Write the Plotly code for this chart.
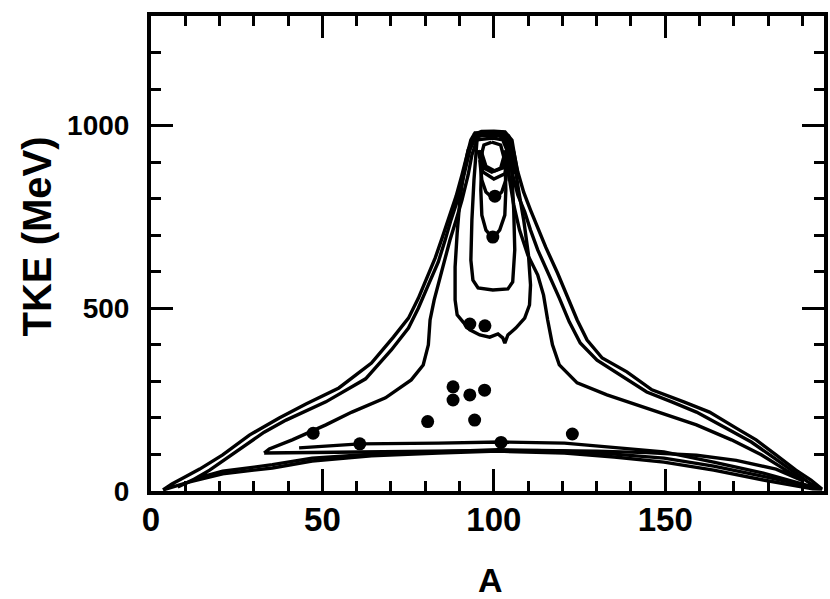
import plotly.graph_objects as go

# ---------------- data ----------------
# contour 1 (outermost envelope, closed)
c1_A = [3.5, 6.1, 9.9, 14.2, 20.9, 28.7, 37.4, 45.2, 54.8, 64.3, 70.7, 75.1, 78.0, 80.3, 82.9, 84.9, 87.0, 89.0,
        90.7, 92.2, 93.3, 94.5, 98.3, 102.6, 104.3, 105.8, 107.0, 108.7, 110.7, 112.8, 115.1, 118.6, 121.4,
        124.3, 127.2, 131.6, 138.8, 146.1, 155.4, 162.9, 170.7, 176.5, 182.3, 188.1, 192.5, 195.7,
        193.0, 178.6, 164.1, 149.6, 135.1, 120.6, 101.2, 83.8, 64.3, 47.0, 35.4, 20.9, 11.3, 3.5]
c1_TKE = [3, 19, 38, 60, 99, 153, 200, 238, 282, 350, 421, 473, 528, 577, 638, 692, 753, 807,
          865, 920, 961, 980, 982, 982, 972, 928, 873, 818, 769, 722, 668, 596, 531,
          468, 413, 364, 326, 277, 244, 216, 172, 140, 99, 57, 30, 5,
          6, 30, 57, 79, 93, 104, 109, 104, 96, 82, 63, 47, 25, 3]

# contour 2 (closed, just inside contour 1)
c2_A = [7.8, 12.2, 17.1, 25.8, 33.0, 39.4, 51.0, 62.6, 70.1, 75.1, 78.0, 80.9, 83.8, 85.8, 87.5, 89.9, 91.6,
        93.0, 94.8, 101.2, 103.5, 104.6, 105.5, 107.0, 109.0, 110.7, 112.8, 116.2, 119.1, 122.0, 125.2,
        130.1, 137.4, 144.6, 151.9, 159.1, 167.8, 175.1, 180.9, 186.7, 191.6, 194.5,
        191.6, 178.6, 164.1, 149.6, 135.1, 120.6, 101.2, 83.8, 64.3, 47.0, 35.4, 20.9, 12.8, 7.8]
c2_TKE = [11, 30, 57, 115, 161, 194, 244, 307, 386, 446, 501, 564, 627, 687, 742, 810, 873,
          933, 972, 974, 961, 920, 865, 810, 764, 714, 660, 591, 528, 463, 405,
          358, 315, 271, 244, 216, 172, 134, 96, 57, 25, 8,
          14, 40, 68, 90, 101, 109, 113, 108, 101, 90, 72, 54, 33, 11]

# contour 3 (tongue, closed)
c3_A = [33.0, 34.5, 41.2, 51.0, 58.6, 68.4, 75.9, 79.4, 80.9, 81.4, 82.6, 84.1, 85.5, 87.2, 89.0, 90.7, 92.5,
        93.6, 95.1, 99.7, 102.6, 103.8, 104.6, 105.8, 107.5, 109.9, 112.8, 114.5, 115.7, 117.1, 119.1,
        124.3, 133.0, 141.7, 150.4, 159.1, 169.3, 178.0, 185.2, 190.4,
        182.3, 170.7, 159.1, 144.6, 130.1, 112.8, 95.4, 78.0, 60.6, 43.2, 33.0]
c3_TKE = [104, 115, 140, 181, 216, 255, 304, 345, 400, 468, 523, 577, 632, 687, 742, 796, 865,
          920, 961, 966, 961, 933, 851, 783, 714, 646, 591, 536, 468, 400, 345,
          296, 263, 235, 208, 181, 140, 99, 57, 27,
          60, 84, 98, 105, 109, 111, 110, 108, 107, 106, 104]

# contour 4 (around the upper dots, closed at the top)
c4_A = [94.8, 92.5, 91.3, 90.1, 89.3, 88.7, 88.7, 89.3, 91.0, 93.0, 95.9, 98.8, 101.2, 102.6, 103.2, 104.1,
        106.4, 109.0, 110.4, 110.7, 110.1, 108.7, 107.2, 106.1, 104.9, 104.1]
c4_TKE = [978, 933, 878, 796, 706, 613, 523, 482, 463, 441, 427, 421, 430, 419, 405, 427,
          446, 473, 509, 564, 646, 742, 824, 892, 939, 972]

# contour 5 (U, bottom near 550 MeV)
c5_A = [95.1, 94.2, 93.6, 93.3, 93.9, 95.4, 99.7, 104.1, 105.5, 106.1, 105.8, 105.2, 104.3]
c5_TKE = [961, 851, 742, 632, 577, 556, 550, 553, 572, 660, 769, 879, 947]

# contour 6 (U, bottom near 700 MeV)
c6_A = [96.5, 96.2, 96.5, 97.7, 99.7, 101.7, 103.2, 103.5, 103.2]
c6_TKE = [933, 824, 755, 714, 692, 714, 755, 824, 933]

# contour 7 (U, bottom near 800 MeV)
c7_A = [95.9, 96.5, 97.7, 100.0, 102.3, 103.5, 104.1]
c7_TKE = [906, 851, 818, 799, 818, 851, 906]

# contours 8, 9 (small U's under the inner oval)
c8_A = [95.4, 96.8, 100.0, 103.2, 104.6]
c8_TKE = [933, 873, 854, 868, 911]
c9_A = [96.2, 97.7, 100.3, 102.6, 103.8]
c9_TKE = [933, 889, 876, 884, 920]

# innermost oval
c10_A = [99.4, 102.0, 102.9, 102.0, 99.4, 97.1, 96.2, 97.1, 99.4]
c10_TKE = [955, 947, 914, 884, 873, 884, 914, 947, 955]

# dense (merged) top of the ridge
cap_A = [94.2, 96.5, 100.0, 103.0, 104.8, 105.7, 106.4]
cap_TKE = [970, 979, 980, 978, 958, 915, 868]

# upper bottom line
d_A = [43.2, 60.9, 83.8, 102.0, 120.6, 135.1, 149.6, 164.1, 178.6, 193.0]
d_TKE = [118, 129, 131, 134, 131, 120, 107, 79, 49, 11]

# measured points
dots_A = [47.3, 60.9, 80.7, 88.1, 88.1, 93.0, 94.4, 97.3, 102.1, 122.9, 93.0, 97.4, 99.7, 100.3]
dots_TKE = [158, 129, 190, 285, 249, 263, 194, 276, 133, 156, 457, 452, 695, 807]

x_ticks = [0, 50, 100, 150]
y_ticks = [0, 500, 1000]

# ---------------- figure ----------------
fig = go.Figure()
curves = [(c1_A, c1_TKE), (c2_A, c2_TKE), (c3_A, c3_TKE), (c4_A, c4_TKE), (c5_A, c5_TKE),
          (c6_A, c6_TKE), (c7_A, c7_TKE), (c8_A, c8_TKE), (c9_A, c9_TKE), (c10_A, c10_TKE),
          (d_A, d_TKE)]
for xa, ya in curves:
    fig.add_trace(go.Scatter(x=xa, y=ya, mode="lines",
                             line=dict(color="black", width=3.4), hoverinfo="skip"))

fig.add_trace(go.Scatter(x=cap_A, y=cap_TKE, mode="lines",
                         line=dict(color="black", width=7), hoverinfo="skip"))

fig.add_trace(go.Scatter(x=dots_A, y=dots_TKE, mode="markers",
                         marker=dict(color="black", size=13), hoverinfo="skip"))

FONT = "Liberation Sans, Arial, Helvetica, sans-serif"

axis_common = dict(
    showline=True, linecolor="black", linewidth=4, mirror="allticks",
    ticks="inside", tickcolor="black", tickwidth=3, showgrid=False, zeroline=False,
)
fig.update_xaxes(range=[0, 196.3], tickvals=x_ticks, ticklen=22,
                 tickfont=dict(family=FONT, size=33, color="black", weight="bold"),
                 minor=dict(dtick=10, tick0=0, ticks="inside", ticklen=10, tickwidth=3, tickcolor="black"),
                 ticklabelstandoff=-4, **axis_common)
fig.update_yaxes(range=[0, 1300], tickvals=y_ticks, ticklen=22,
                 tickfont=dict(family=FONT, size=28, color="black", weight="bold"),
                 minor=dict(dtick=100, tick0=0, ticks="inside", ticklen=10, tickwidth=3, tickcolor="black"),
                 ticklabelstandoff=12, **axis_common)

fig.update_layout(
    width=830, height=599,
    margin=dict(l=151, r=2, t=16, b=108),
    plot_bgcolor="white", paper_bgcolor="white",
    showlegend=False,
    annotations=[
        dict(text="A", x=0.505, y=-0.187, xref="paper", yref="paper",
             showarrow=False, xanchor="center", yanchor="middle",
             font=dict(family=FONT, size=34, color="black", weight="bold")),
        dict(text="TKE (MeV)", x=-0.170, y=0.535, xref="paper", yref="paper",
             showarrow=False, xanchor="center", yanchor="middle", textangle=-90,
             font=dict(family=FONT, size=40, color="black", weight="bold")),
    ],
)

fig.write_html("out.html")
